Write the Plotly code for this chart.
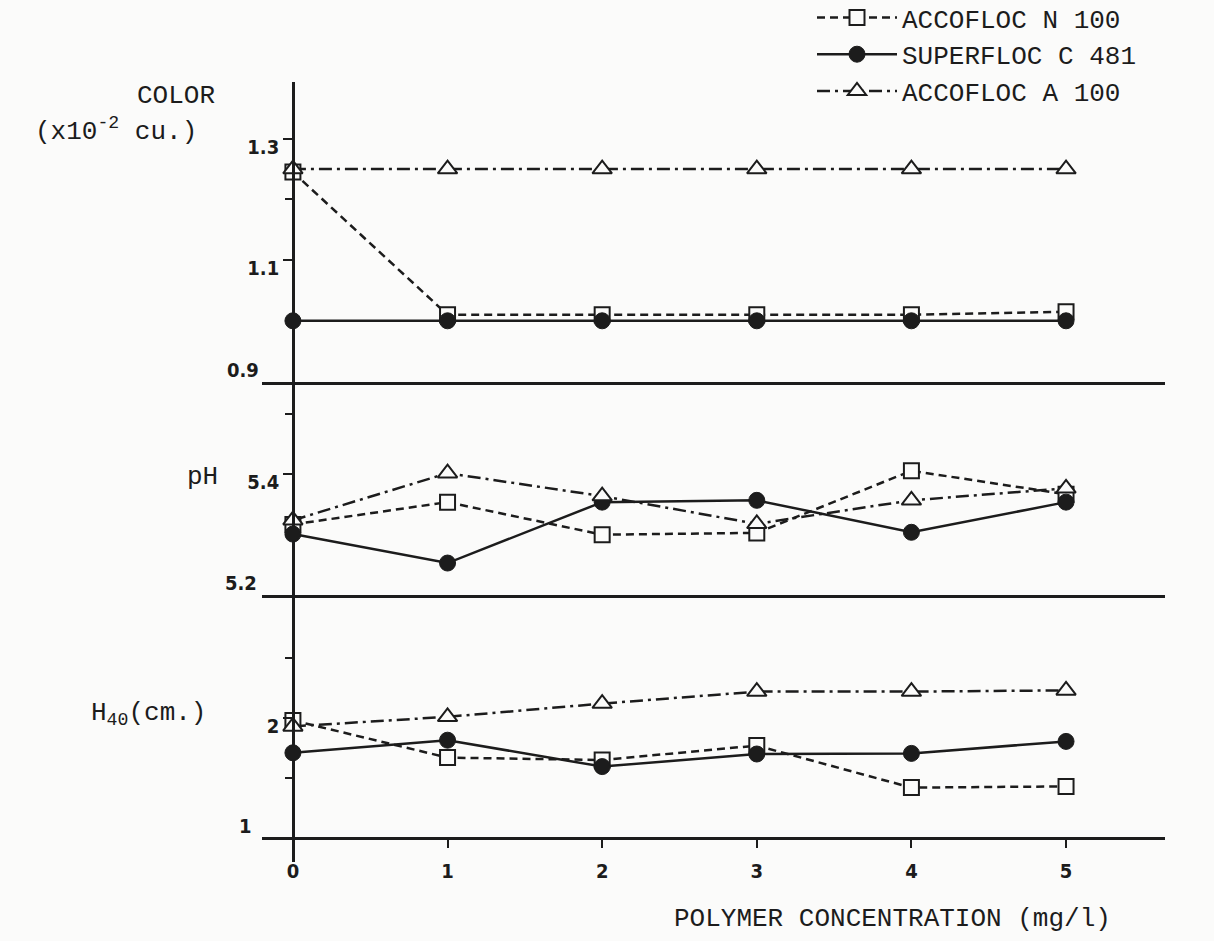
import plotly.graph_objects as go

# ---------------- data ----------------
conc = [0, 1, 2, 3, 4, 5]
series_names = ["ACCOFLOC N 100", "SUPERFLOC C 481", "ACCOFLOC A 100"]

color_n100 = [1.245, 1.01, 1.01, 1.01, 1.01, 1.015]
color_c481 = [1.00, 1.00, 1.00, 1.00, 1.00, 1.00]
color_a100 = [1.25, 1.25, 1.25, 1.25, 1.25, 1.25]

ph_n100 = [5.317, 5.354, 5.300, 5.303, 5.406, 5.367]
ph_c481 = [5.301, 5.253, 5.354, 5.357, 5.304, 5.354]
ph_a100 = [5.324, 5.402, 5.364, 5.318, 5.357, 5.377]

h40_n100 = [1.98, 1.67, 1.65, 1.77, 1.42, 1.43]
h40_c481 = [1.71, 1.815, 1.595, 1.70, 1.705, 1.805]
h40_a100 = [1.93, 2.01, 2.12, 2.22, 2.22, 2.23]

x_ticks = [0, 1, 2, 3, 4, 5]
color_major = [1.1, 1.3]
color_minor = [1.0, 1.2]
ph_major = [5.4]
ph_minor = [5.3, 5.5]
h40_major = [2]
h40_minor = [1.5, 2.5]

# ---------------- style ----------------
INK = "#1c1c1c"
BG = "#fbfbfa"
TYPE = "Liberation Mono, Courier New, monospace"
NUM = "Liberation Sans Narrow, DejaVu Sans Condensed, Liberation Sans, sans-serif"

styles = [
    dict(line=dict(color=INK, width=2.5, dash="8px,5px"),
         marker=dict(symbol="square", size=15, color=BG, line=dict(color=INK, width=2))),
    dict(line=dict(color=INK, width=2.5, dash="solid"),
         marker=dict(symbol="circle", size=16, color=INK, line=dict(color=INK, width=1))),
    dict(line=dict(color=INK, width=2.5, dash="13px,5px,3px,5px"),
         marker=dict(symbol="triangle-up", size=17, color=BG, line=dict(color=INK, width=2))),
]

panels = [
    ("x", "y", [color_n100, color_c481, color_a100]),
    ("x2", "y2", [ph_n100, ph_c481, ph_a100]),
    ("x3", "y3", [h40_n100, h40_c481, h40_a100]),
]

fig = go.Figure()
for p, (xa, ya, data) in enumerate(panels):
    for i, vals in enumerate(data):
        fig.add_trace(go.Scatter(
            x=conc, y=vals, mode="lines+markers", name=series_names[i],
            xaxis=xa, yaxis=ya,
            showlegend=(p == 0), line=styles[i]["line"], marker=styles[i]["marker"],
        ))

# ---------------- layout ----------------
W, H = 1214, 941
ML, MR, MT, MB = 262, 49, 82, 79
plot_w = W - ML - MR
plot_h = H - MT - MB
XR = [-0.2, 5.64]
yaxis_pos = (0 - XR[0]) / (XR[1] - XR[0])


def pf(ypix):
    return (H - MB - ypix) / plot_h


def px(xpix):
    return (xpix - ML) / plot_w


d1 = [pf(381.5), 1.0]
d2 = [pf(595), pf(381.5)]
d3 = [0.0, pf(595)]

numfont = dict(family=NUM, size=20, color=INK, weight="bold")
typefont = dict(family=TYPE, size=26, color=INK)

yax_common = dict(
    showline=True, linecolor=INK, linewidth=2.5, ticks="outside", ticklen=9,
    tickwidth=2, tickcolor=INK, showgrid=False, zeroline=False,
    anchor="free", position=yaxis_pos, ticklabelshift=8,
    tickfont=numfont,
)
minor_common = dict(ticks="outside", ticklen=7, tickwidth=2, tickcolor=INK, showgrid=False)

xax_common = dict(range=XR, showline=True, linecolor=INK, linewidth=2.5,
                  showgrid=False, zeroline=False)

fig.update_layout(
    width=W, height=H,
    margin=dict(l=ML, r=MR, t=MT, b=MB, autoexpand=False),
    paper_bgcolor=BG, plot_bgcolor=BG,
    font=dict(family=TYPE, color=INK),
    showlegend=True,
    legend=dict(
        x=px(812), y=pf(-6), xanchor="left", yanchor="top",
        font=typefont, tracegroupgap=0,
        bgcolor="rgba(0,0,0,0)", borderwidth=0, itemwidth=80,
    ),
    xaxis=dict(**xax_common, anchor="y", ticks="", showticklabels=False),
    xaxis2=dict(**xax_common, anchor="y2", matches="x", ticks="", showticklabels=False),
    xaxis3=dict(**xax_common, anchor="free", position=pf(838), matches="x",
                tickvals=x_ticks, ticks="outside", ticklen=8, tickwidth=2, tickcolor=INK,
                ticklabelstandoff=6, tickfont=numfont),
    yaxis=dict(**yax_common, domain=d1, range=[0.9, 0.9 + (381.5 - 82) / 607],
               tickvals=color_major, ticktext=["1.1", "1.3"],
               minor=dict(**minor_common, tickvals=color_minor)),
    yaxis2=dict(**yax_common, domain=d2, range=[5.2, 5.2 + (595 - 381.5) / 603],
                tickvals=ph_major, ticktext=["5.4"],
                minor=dict(**minor_common, tickvals=ph_minor)),
    yaxis3=dict(**yax_common, domain=d3, range=[0.8, 0.8 + (862 - 595) / 120],
                tickvals=h40_major, ticktext=["2"],
                minor=dict(**minor_common, tickvals=h40_minor)),
)

annotations = [
    # boundary tick labels
    dict(text="0.9", x=XR[0], y=0.9, xref="x", yref="y", xanchor="right", yanchor="bottom",
         showarrow=False, font=numfont, xshift=-1, yshift=-2),
    dict(text="5.2", x=XR[0], y=5.2, xref="x", yref="y2", xanchor="right", yanchor="bottom",
         showarrow=False, font=numfont, xshift=-3, yshift=-2),
    dict(text="1", x=XR[0], y=1, xref="x", yref="y3", xanchor="right", yanchor="bottom",
         showarrow=False, font=numfont, xshift=-8, yshift=-2),
    # axis titles
    dict(text="COLOR", x=px(176), y=pf(96), xref="paper", yref="paper",
         xanchor="center", yanchor="middle", showarrow=False, font=typefont),
    dict(text="(x10<sup>-2</sup> cu.)", x=px(116), y=pf(130),
         xref="paper", yref="paper", xanchor="center", yanchor="middle",
         showarrow=False, font=typefont),
    dict(text="pH", x=px(202), y=pf(477), xref="paper", yref="paper",
         xanchor="center", yanchor="middle", showarrow=False, font=typefont),
    dict(text="H<sub>40</sub>(cm.)", x=px(148), y=pf(714),
         xref="paper", yref="paper", xanchor="center", yanchor="middle",
         showarrow=False, font=typefont),
    dict(text="POLYMER CONCENTRATION (mg/l)", x=px(892), y=pf(919),
         xref="paper", yref="paper", xanchor="center", yanchor="middle",
         showarrow=False, font=typefont),
]
fig.update_layout(annotations=annotations)

fig.write_html("out.html")
